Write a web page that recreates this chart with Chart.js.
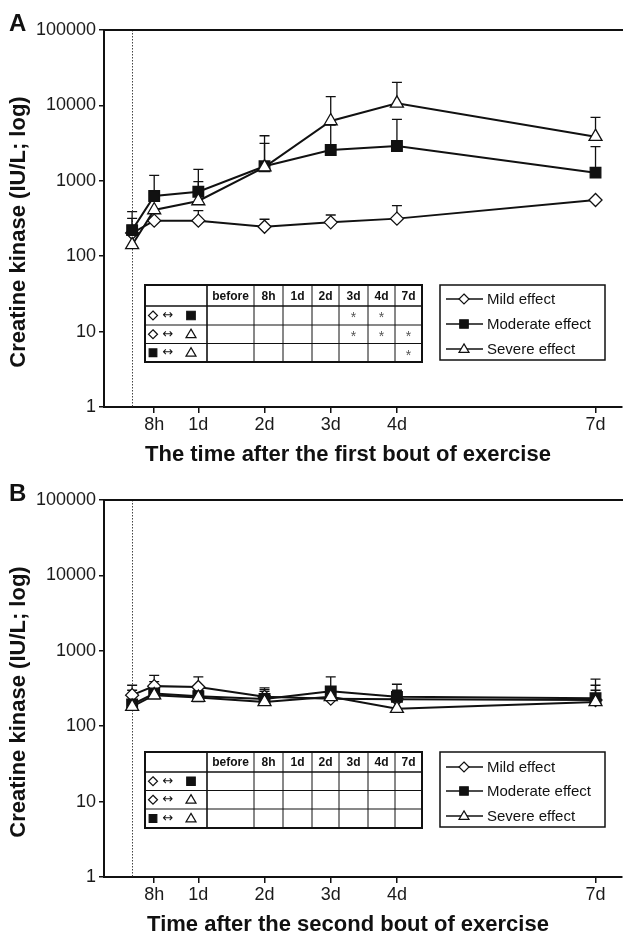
<!DOCTYPE html>
<html>
<head>
<meta charset="utf-8">
<script src="https://cdn.jsdelivr.net/npm/chart.js@4.4.1/dist/chart.umd.min.js"></script>
<style>
  html, body { margin: 0; padding: 0; background: #fff; overflow: hidden; }
  .panel { position: relative; width: 623px; height: 470px; }
  canvas { display: block; }
</style>
</head>
<body>
<div class="panel"><canvas id="chartA" width="623" height="470"></canvas></div>
<div class="panel"><canvas id="chartB" width="623" height="470"></canvas></div>
<script>
// Sampling times (hours after the exercise bout; 0 = before)
const hours = [0, 8, 24, 48, 72, 96, 168];
const xTickHours = [8, 24, 48, 72, 96, 168];
const xTickLabels = ['8h', '1d', '2d', '3d', '4d', '7d'];
const yTickValues = [1, 10, 100, 1000, 10000, 100000];
const seriesNames = ['Mild effect', 'Moderate effect', 'Severe effect'];

// First bout: creatine kinase means (IU/L) and upper SD limits
const mildA = [203, 296, 296, 246, 281, 315, 556];
const mildErrA = [null, null, 401, 309, 352, 468, null];
const moderateA = [222, 629, 717, 1560, 2562, 2895, 1282];
const moderateErrA = [389, 1183, 1421, 3960, 5500, 6540, 2838];
const severeA = [141, 410, 540, 1520, 6210, 10660, 3846];
const severeErrA = [318, null, 973, 3139, 13060, 20240, 6950];

// Second bout
const mildB = [258, 340, 331, 245, 232, 228, 222];
const mildErrB = [349, 473, 450, 323, null, 300, 300];
const moderateB = [195, 271, 250, 230, 290, 245, 235];
const moderateErrB = [300, 390, 300, 305, 450, 360, 420];
const severeB = [182, 258, 240, 210, 245, 171, 210];
const severeErrB = [null, 330, null, 290, 300, null, 349];

// Pairwise comparison table (1 = significant)
const tableColumns = ['before', '8h', '1d', '2d', '3d', '4d', '7d'];
const comparisonPairs = [['rectRot', 'rect'], ['rectRot', 'triangle'], ['rect', 'triangle']];
const sigA = [[0, 0, 0, 0, 1, 1, 0], [0, 0, 0, 0, 1, 1, 1], [0, 0, 0, 0, 0, 0, 1]];
const sigB = [[0, 0, 0, 0, 0, 0, 0], [0, 0, 0, 0, 0, 0, 0], [0, 0, 0, 0, 0, 0, 0]];

const FONT = '"Liberation Sans", Arial, Helvetica, sans-serif';
const INK = '#111';

function toPoints(values) {
  return hours.map((h, i) => ({ x: h, y: values[i] }));
}

// Small marker shapes for legend and table
function drawMarker(ctx, style, x, y, r) {
  ctx.save();
  ctx.lineWidth = 1.2;
  ctx.strokeStyle = INK;
  ctx.beginPath();
  if (style === 'rectRot') {
    ctx.moveTo(x, y - r); ctx.lineTo(x + r, y); ctx.lineTo(x, y + r); ctx.lineTo(x - r, y); ctx.closePath();
    ctx.fillStyle = '#fff';
  } else if (style === 'rect') {
    const s = r * 0.85;
    ctx.rect(x - s, y - s, 2 * s, 2 * s);
    ctx.fillStyle = INK;
  } else {
    const h = r * 1.7;
    ctx.moveTo(x, y - h * 0.6); ctx.lineTo(x + r, y + h * 0.4); ctx.lineTo(x - r, y + h * 0.4); ctx.closePath();
    ctx.fillStyle = '#fff';
  }
  ctx.fill();
  ctx.stroke();
  ctx.restore();
}

const errorBarPlugin = {
  id: 'errorBars',
  beforeDatasetsDraw(chart) {
    const { ctx } = chart;
    const yScale = chart.scales.y;
    ctx.save();
    ctx.strokeStyle = INK;
    ctx.lineWidth = 1.3;
    chart.data.datasets.forEach((ds, di) => {
      const meta = chart.getDatasetMeta(di);
      (ds.errorTops || []).forEach((top, i) => {
        if (top == null) return;
        const el = meta.data[i];
        const yTop = yScale.getPixelForValue(top);
        ctx.beginPath();
        ctx.moveTo(el.x, el.y);
        ctx.lineTo(el.x, yTop);
        ctx.moveTo(el.x - 5, yTop);
        ctx.lineTo(el.x + 5, yTop);
        ctx.stroke();
      });
    });
    ctx.restore();
  }
};

const panelPlugin = {
  id: 'panelDecor',
  beforeDatasetsDraw(chart) {
    // dotted line marking the exercise bout (time 0)
    const { ctx, chartArea } = chart;
    const x0 = Math.round(chart.scales.x.getPixelForValue(0)) + 0.5;
    ctx.save();
    ctx.strokeStyle = '#444';
    ctx.lineWidth = 1;
    ctx.setLineDash([1.5, 1.5]);
    ctx.beginPath();
    ctx.moveTo(x0, chartArea.top);
    ctx.lineTo(x0, chartArea.bottom);
    ctx.stroke();
    ctx.restore();
  },
  afterDraw(chart, args, opts) {
    const { ctx, chartArea } = chart;
    ctx.save();

    // top frame line
    ctx.strokeStyle = INK;
    ctx.lineWidth = 2;
    ctx.beginPath();
    ctx.moveTo(chartArea.left, chartArea.top);
    ctx.lineTo(chart.width, chartArea.top);
    ctx.stroke();

    // panel letter
    ctx.fillStyle = INK;
    ctx.font = 'bold 24px ' + FONT;
    ctx.textAlign = 'left';
    ctx.textBaseline = 'alphabetic';
    ctx.fillText(opts.letter, 9, 31);

    // axis titles
    ctx.font = 'bold 22px ' + FONT;
    ctx.textAlign = 'center';
    ctx.textBaseline = 'middle';
    ctx.fillText(opts.xTitle, 348, 455);
    ctx.save();
    ctx.translate(19, 232);
    ctx.rotate(-Math.PI / 2);
    ctx.fillText(opts.yTitle, 0, 0);
    ctx.restore();

    // comparison table
    const cols = [145, 207, 254, 283, 312, 339, 368, 395, 422];
    const rows = opts.tableRows;
    ctx.strokeStyle = INK;
    for (let i = 1; i < cols.length - 1; i++) {
      ctx.lineWidth = i === 1 ? 1.6 : 1;
      ctx.beginPath();
      ctx.moveTo(cols[i], rows[0]);
      ctx.lineTo(cols[i], rows[rows.length - 1]);
      ctx.stroke();
    }
    for (let j = 1; j < rows.length - 1; j++) {
      ctx.lineWidth = j === 1 ? 1.6 : 1;
      ctx.beginPath();
      ctx.moveTo(cols[0], rows[j]);
      ctx.lineTo(cols[cols.length - 1], rows[j]);
      ctx.stroke();
    }
    ctx.lineWidth = 2;
    ctx.strokeRect(cols[0], rows[0], cols[cols.length - 1] - cols[0], rows[rows.length - 1] - rows[0]);

    ctx.fillStyle = INK;
    ctx.font = 'bold 12px ' + FONT;
    ctx.textAlign = 'center';
    ctx.textBaseline = 'middle';
    tableColumns.forEach((c, i) => {
      ctx.fillText(c, (cols[i + 1] + cols[i + 2]) / 2, (rows[0] + rows[1]) / 2 + 1);
    });
    comparisonPairs.forEach((pair, r) => {
      const cy = (rows[r + 1] + rows[r + 2]) / 2;
      drawMarker(ctx, pair[0], 153, cy, 4.5);
      ctx.fillStyle = INK;
      ctx.font = '13px "DejaVu Sans", ' + FONT;
      ctx.fillText('\u2194', 168, cy);
      drawMarker(ctx, pair[1], 191, cy, 5);
      ctx.fillStyle = '#555';
      ctx.font = '14px ' + FONT;
      opts.sig[r].forEach((s, c) => {
        if (s) ctx.fillText('*', (cols[c + 1] + cols[c + 2]) / 2, cy + 3);
      });
    });

    // legend
    const lg = opts.legend;
    ctx.strokeStyle = INK;
    ctx.lineWidth = 1.5;
    ctx.strokeRect(lg.x, lg.y, lg.w, lg.h);
    const styles = ['rectRot', 'rect', 'triangle'];
    seriesNames.forEach((name, i) => {
      const ly = lg.rows[i];
      ctx.strokeStyle = INK;
      ctx.lineWidth = 1.5;
      ctx.beginPath();
      ctx.moveTo(lg.x + 6, ly);
      ctx.lineTo(lg.x + 43, ly);
      ctx.stroke();
      drawMarker(ctx, styles[i], lg.x + 24, ly, 5);
      ctx.fillStyle = INK;
      ctx.font = '15px ' + FONT;
      ctx.textAlign = 'left';
      ctx.textBaseline = 'middle';
      ctx.fillText(name, lg.x + 47, ly + 1);
    });

    ctx.restore();
  }
};

function makeChart(id, d, decor) {
  const common = { borderColor: INK, borderWidth: 2, pointBorderColor: INK, pointBorderWidth: 1.3, tension: 0 };
  return new Chart(document.getElementById(id), {
    type: 'line',
    data: {
      datasets: [
        Object.assign({ label: seriesNames[0], data: toPoints(d.mild), errorTops: d.mildErr,
          pointStyle: 'rectRot', pointRadius: 6.5, pointBackgroundColor: '#fff', order: 2 }, common),
        Object.assign({ label: seriesNames[1], data: toPoints(d.moderate), errorTops: d.moderateErr,
          pointStyle: 'rect', pointRadius: 7.5, pointBackgroundColor: INK, order: 1 }, common),
        Object.assign({ label: seriesNames[2], data: toPoints(d.severe), errorTops: d.severeErr,
          pointStyle: 'triangle', pointRadius: 7.5, pointBackgroundColor: '#fff', order: 0 }, common)
      ]
    },
    options: {
      responsive: false,
      animation: false,
      devicePixelRatio: 1,
      layout: { autoPadding: false, padding: { top: 30, right: 1, left: 0, bottom: 0 } },
      plugins: {
        legend: { display: false },
        tooltip: { enabled: false },
        panelDecor: decor
      },
      scales: {
        x: {
          type: 'linear',
          min: -10.2,
          max: 177.6,
          afterBuildTicks: s => { s.ticks = xTickHours.map(v => ({ value: v })); },
          afterFit: s => { s.height = 63; s.paddingLeft = 0; s.paddingRight = 0; },
          ticks: {
            autoSkip: false, maxRotation: 0, padding: 1,
            color: '#1a1a1a', font: { family: FONT, size: 18 },
            callback: (v, i) => xTickLabels[i]
          },
          grid: { display: true, drawOnChartArea: false, drawTicks: true, tickLength: 6, color: INK, lineWidth: 1.5 },
          border: { display: true, color: INK, width: 2 }
        },
        y: {
          type: 'logarithmic',
          min: 1,
          max: 100000,
          afterBuildTicks: s => { s.ticks = yTickValues.map(v => ({ value: v })); },
          afterFit: s => { s.width = 104; },
          ticks: {
            autoSkip: false, padding: 3,
            color: '#1a1a1a', font: { family: FONT, size: 18 },
            callback: v => String(v)
          },
          grid: { display: true, drawOnChartArea: false, drawTicks: true, tickLength: 5, color: INK, lineWidth: 1.5 },
          border: { display: true, color: INK, width: 2 }
        }
      }
    },
    plugins: [errorBarPlugin, panelPlugin]
  });
}

makeChart('chartA',
  { mild: mildA, mildErr: mildErrA, moderate: moderateA, moderateErr: moderateErrA, severe: severeA, severeErr: severeErrA },
  { letter: 'A', xTitle: 'The time after the first bout of exercise', yTitle: 'Creatine kinase (IU/L; log)',
    sig: sigA, tableRows: [285, 306, 325, 343.5, 362],
    legend: { x: 440, y: 285, w: 165, h: 75, rows: [299, 324, 349] } });

makeChart('chartB',
  { mild: mildB, mildErr: mildErrB, moderate: moderateB, moderateErr: moderateErrB, severe: severeB, severeErr: severeErrB },
  { letter: 'B', xTitle: 'Time after the second bout of exercise', yTitle: 'Creatine kinase (IU/L; log)',
    sig: sigB, tableRows: [282, 302, 320.5, 339, 358],
    legend: { x: 440, y: 282, w: 165, h: 75, rows: [297, 321, 346] } });
</script>
</body>
</html>
